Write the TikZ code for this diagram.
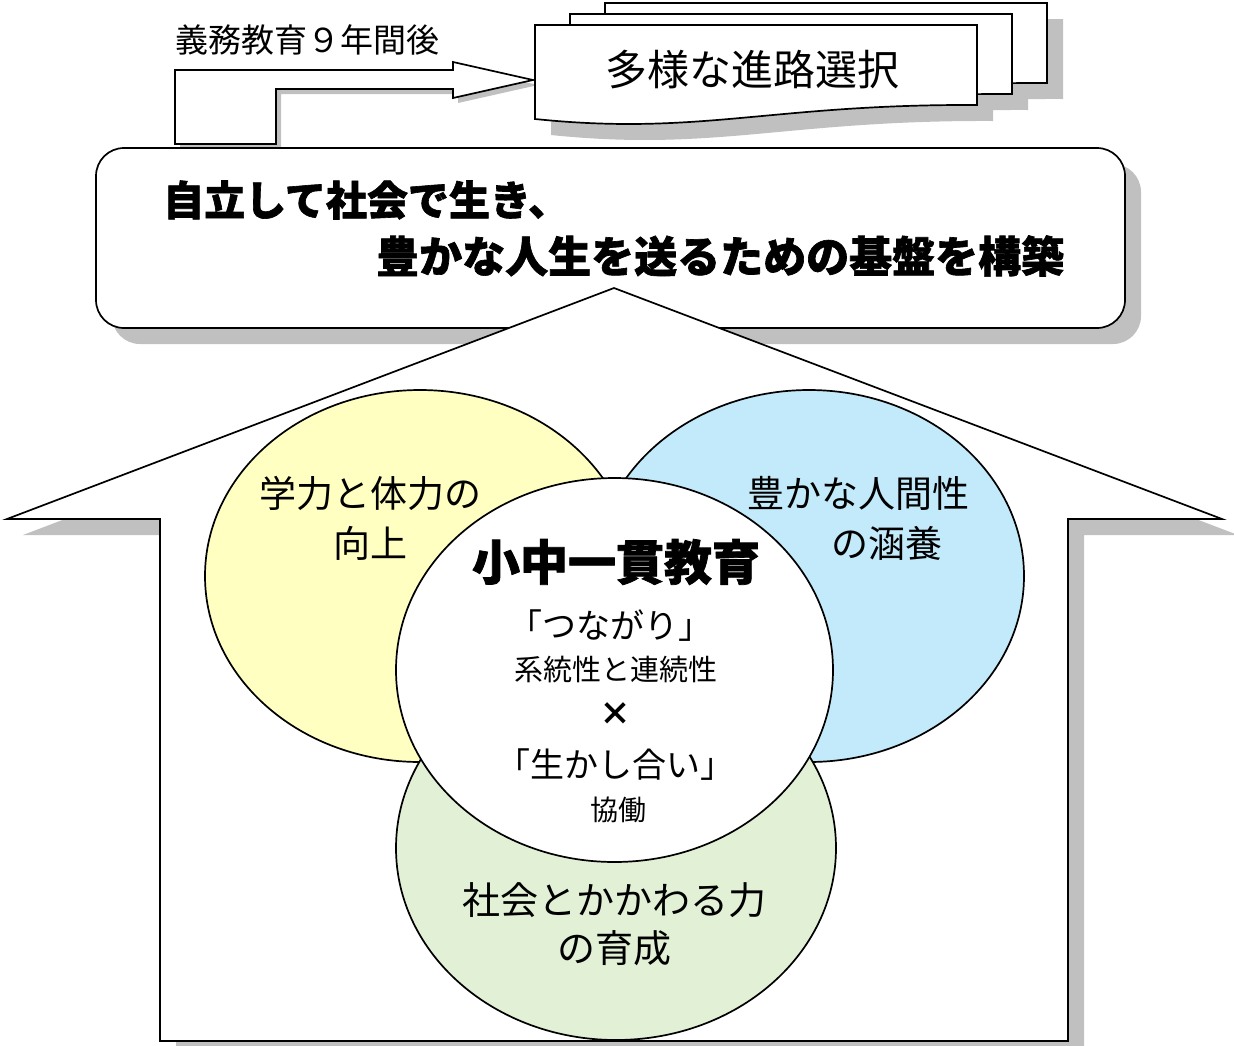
\documentclass[tikz,border=0pt]{standalone}
\usepackage{fontspec}
\usetikzlibrary{shapes.geometric}
\newfontfamily\jp{Noto Sans CJK JP}
\newfontfamily\jph[BoldFeatures={FakeBold=1.5}]{Noto Sans CJK JP}
\definecolor{shd}{RGB}{192,192,192}
\definecolor{cyel}{RGB}{255,255,194}
\definecolor{cblu}{RGB}{194,234,250}
\definecolor{cgrn}{RGB}{226,240,214}
\newcommand\ArrowShp[1]{\path[#1] (175,70) -- (453,70) -- (453,62) -- (533,80) -- (453,98) -- (453,89) -- (276,89) -- (276,144) -- (175,144) -- cycle;}
\newcommand\DocShp[1]{\path[#1] (535,25) -- (977,25) -- (977,105) .. controls (770,104) and (700,136) .. (535,119) -- cycle;}
\newcommand\BoxShp[1]{\path[#1, rounded corners=28pt] (96,148) rectangle (1125,328);}
\newcommand\HouseShp[1]{\path[#1] (614,288) -- (1222,519) -- (1068,519) -- (1068,1041) -- (160,1041) -- (160,519) -- (7,519) -- cycle;}
\newcommand\fs[1]{\fontsize{#1}{#1}\selectfont}
\begin{document}
\begin{tikzpicture}[x=1pt,y=-1pt,
  outl/.style={draw=black, line width=1.7pt, fill=white},
  shadowfill/.style={fill=shd, draw=none},
  txt/.style={inner sep=0pt, text=black},
  blob/.style={ellipse, draw=black, line width=1.7pt, inner sep=0pt}]
\useasboundingbox[fill=white] (0,0) rectangle (1234,1045);

% bent arrow
\ArrowShp{shadowfill, shift={(5,5)}}
\ArrowShp{outl}

% document stack
\DocShp{shadowfill, shift={(86,-6)}}
\DocShp{shadowfill, shift={(51,5)}}
\DocShp{shadowfill, shift={(16,16)}}
\DocShp{outl, shift={(70,-22)}}
\DocShp{outl, shift={(35,-11)}}
\DocShp{outl}

% main rounded box
\BoxShp{shadowfill, shift={(16,16)}}
\BoxShp{outl}

% house
\HouseShp{shadowfill, shift={(16,16)}}
\HouseShp{outl}

% ellipses
\node[blob, fill=cyel, minimum width=430pt, minimum height=372pt] (yel) at (420,576) {};
\node[blob, fill=cblu, minimum width=430pt, minimum height=372pt] (blu) at (809,576) {};
\node[blob, fill=cgrn, minimum width=440pt, minimum height=384pt] (grn) at (616,848) {};
\node[blob, fill=white, minimum width=437pt, minimum height=384pt] (wht) at (614.5,670) {};

% texts
\node[txt, font=\jp\fs{33}, anchor=west] (t9) at (175,40) {義務教育９年間後};
\node[txt, font=\jp\fs{42}] (tdoc) at (752,70) {多様な進路選択};
\node[txt, font=\jph\bfseries\fs{41}, anchor=west] (h1) at (163,200) {自立して社会で生き、};
\node[txt, font=\jph\bfseries\fs{43}, anchor=west] (h2) at (376,256) {豊かな人生を送るための基盤を構築};

\node[txt, font=\jp\fs{37}] (ty1) at (370,493) {学力と体力の};
\node[txt, font=\jp\fs{37}] (ty2) at (370,543) {向上};
\node[txt, font=\jp\fs{37}] (tb1) at (858,493) {豊かな人間性};
\node[txt, font=\jp\fs{37}] (tb2) at (887,543) {の涵養};

\node[txt, font=\jph\bfseries\fs{48}] (tc1) at (616,562) {小中一貫教育};
\node[txt, font=\jp\fs{34}] (tc2) at (610,626) {「つながり」};
\node[txt, font=\jp\fs{29}] (tc3) at (616,670) {系統性と連続性};
\node[txt, font=\jp\bfseries\fs{32}] (tc4) at (615,714) {×};
\node[txt, font=\jp\fs{34}] (tc5) at (615,765) {「生かし合い」};
\node[txt, font=\jp\fs{28}] (tc6) at (618,810) {協働};

\node[txt, font=\jp\fs{38}] (tg1) at (614,900) {社会とかかわる力};
\node[txt, font=\jp\fs{38}] (tg2) at (614,948) {の育成};
\end{tikzpicture}
\end{document}
